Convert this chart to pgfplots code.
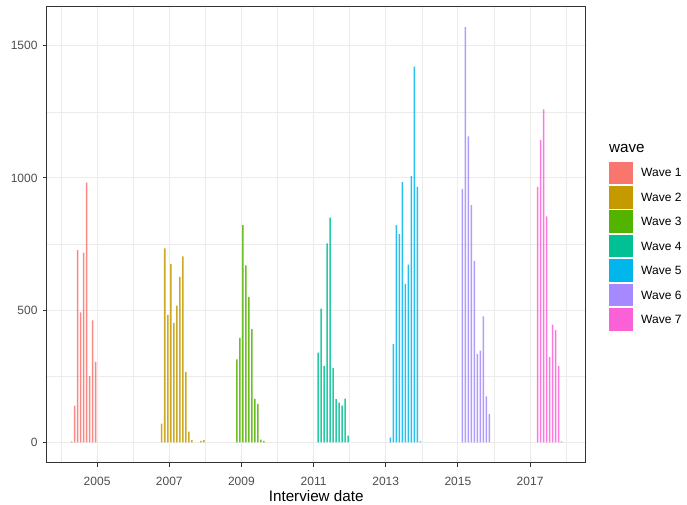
\documentclass[border=0pt]{standalone}
\usepackage{pgfplots}
\pgfplotsset{compat=1.18}
\usepackage{fontspec}
\setmainfont{Liberation Sans}
\definecolor{w1}{HTML}{F8766D}
\definecolor{w2}{HTML}{C49A00}
\definecolor{w3}{HTML}{53B400}
\definecolor{w4}{HTML}{00C094}
\definecolor{w5}{HTML}{00B6EB}
\definecolor{w6}{HTML}{A58AFF}
\definecolor{w7}{HTML}{FB61D7}
\definecolor{g20}{HTML}{333333}
\definecolor{g30}{HTML}{4D4D4D}
\definecolor{g92}{HTML}{EBEBEB}
\begin{document}
\begin{tikzpicture}
\begin{axis}[name=ax,
  width=539pt, height=456pt, scale only axis,
  xmin=-16.76, xmax=162.5, ymin=-77.2, ymax=1647.5,
  xtick={0,24,48,72,96,120,144},
  xticklabels={2005,2007,2009,2011,2013,2015,2017},
  minor xtick={-12,12,36,60,84,108,132,156},
  ytick={0,500,1000,1500},
  minor ytick={250,750,1250},
  grid=both,
  major grid style={draw=g92, line width=1.07pt},
  minor grid style={draw=g92, line width=0.53pt},
  axis line style={draw=g20, line width=1.07pt},
  tick pos=left, tick align=outside,
  major tick length=3.8pt, minor tick length=0pt,
  major tick style={draw=g20, line width=1.07pt},
  /pgf/number format/assume math mode=true,
  /pgf/number format/1000 sep={},
  tick label style={font=\fontsize{12}{14}\selectfont, text=g30, inner sep=0pt},
  xticklabel style={anchor=north},
  yticklabel style={anchor=east},
  xticklabel shift=10.3pt,
  yticklabel shift=5.2pt,
  xlabel={Interview date},
  xlabel style={font=\fontsize{15.2}{18}\selectfont, inner sep=0pt, at={(axis description cs:0.5,0)}, anchor=base, yshift=-38.5pt},
  every axis plot/.append style={ybar, bar width=0.5, bar shift=0pt, draw=none, fill opacity=0.85},
]
\addplot[fill=w1] coordinates {
(-8.5,3) (-7.5,139) (-6.5,727) (-5.5,491) (-4.5,717) (-3.5,982) (-2.5,250) (-1.5,461) (-0.5,304)};
\addplot[fill=w2] coordinates {
(21.5,71) (22.5,733) (23.5,482) (24.5,674) (25.5,452) (26.5,517) (27.5,626) (28.5,703) (29.5,266) (30.5,40) (31.5,8) (34.5,5) (35.5,8)};
\addplot[fill=w3] coordinates {
(46.5,314) (47.5,395) (48.5,821) (49.5,669) (50.5,550) (51.5,428) (52.5,164) (53.5,145) (54.5,10) (55.5,5)};
\addplot[fill=w4] coordinates {
(73.5,339) (74.5,506) (75.5,289) (76.5,752) (77.5,850) (78.5,281) (79.5,163) (80.5,150) (81.5,139) (82.5,165) (83.5,25)};
\addplot[fill=w5] coordinates {
(97.5,18) (98.5,371) (99.5,821) (100.5,787) (101.5,984) (102.5,599) (103.5,672) (104.5,1007) (105.5,1421) (106.5,966) (107.5,3)};
\addplot[fill=w6] coordinates {
(121.5,958) (122.5,1570) (123.5,1157) (124.5,897) (125.5,686) (126.5,334) (127.5,347) (128.5,476) (129.5,174) (130.5,107)};
\addplot[fill=w7] coordinates {
(146.5,966) (147.5,1143) (148.5,1259) (149.5,854) (150.5,322) (151.5,445) (152.5,424) (153.5,289) (154.5,3)};
\end{axis}
\begin{scope}[shift={(ax.north west)}]
\node[anchor=base west, inner sep=0pt, font=\fontsize{15.2}{18}\selectfont] at (562.3pt,-145.6pt) {wave};
\foreach \c [count=\i from 0] in {w1,w2,w3,w4,w5,w6,w7}{
  \fill[\c] (562.6pt,{-(155+24.4*\i)*1pt}) rectangle (585.8pt,{-(177.5+24.4*\i)*1pt});
  \node[anchor=west, inner sep=0pt, font=\fontsize{12}{14}\selectfont] at (594.3pt,{-(166.2+24.4*\i)*1pt}) {Wave \the\numexpr\i+1\relax};
}
\end{scope}
\path (ax.north west) ++(-46.7pt,6.7pt) rectangle ++(687pt,-505pt);
\end{tikzpicture}
\end{document}
